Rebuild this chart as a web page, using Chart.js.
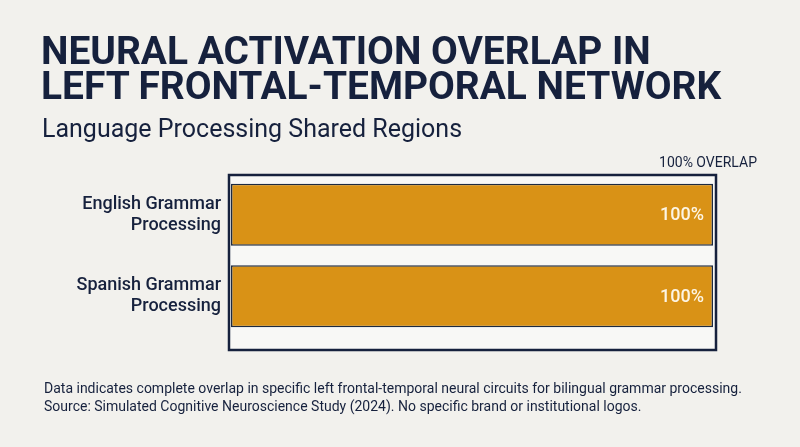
<!DOCTYPE html>
<html>
<head>
<meta charset="utf-8">
<script src="https://cdn.jsdelivr.net/npm/chart.js@4.4.1/dist/chart.umd.min.js"></script>
<style>
  html, body { margin: 0; padding: 0; background: #f2f1ed; }
  #wrap { position: relative; width: 800px; height: 447px; overflow: hidden; }
  #chart { position: absolute; left: 0; top: 0; }
  .title { position: absolute; left: 41px; top: 33px; font-family: Roboto, sans-serif; font-weight: 700;
           font-size: 38.9px; line-height: 35px; color: #16213d; }
  .subtitle { position: absolute; left: 42px; top: 114px; font-family: Roboto, sans-serif; font-size: 25px;
              line-height: 29px; color: #16213d; }
  .footer { position: absolute; left: 44px; top: 379px; font-family: Roboto, sans-serif;
            font-size: 14px; line-height: 18px; color: #16213d; }
</style>
</head>
<body>
<div id="wrap">
  <canvas id="chart" width="800" height="447"></canvas>
  <div class="title">NEURAL ACTIVATION OVERLAP IN<br>LEFT FRONTAL-TEMPORAL NETWORK</div>
  <div class="subtitle">Language Processing Shared Regions</div>
  <div class="footer">Data indicates complete overlap in specific left frontal-temporal neural circuits for bilingual grammar processing.<br>Source: Simulated Cognitive Neuroscience Study (2024). No specific brand or institutional logos.</div>
</div>
<script>
const categories = [['English Grammar', 'Processing'], ['Spanish Grammar', 'Processing']];
const overlapValues = [100, 100];
const axisMax = 100;
const topNote = '100% OVERLAP';

const navy = '#16213d';
const barColor = '#d99216';

// white panel with dark frame behind the bars
const framePlugin = {
    id: 'frame',
    beforeDatasetsDraw(chart) {
        const a = chart.chartArea;
        const ctx = chart.ctx;
        ctx.save();
        ctx.fillStyle = '#f8f8f6';
        ctx.fillRect(a.left - 2, a.top + 1, a.right - a.left + 5, a.bottom - a.top + 12);
        ctx.strokeStyle = navy;
        ctx.lineWidth = 2.5;
        ctx.strokeRect(a.left - 2, a.top + 1, a.right - a.left + 5, a.bottom - a.top + 12);
        ctx.restore();
    },
    afterDatasetsDraw(chart) {
        const ctx = chart.ctx;
        const meta = chart.getDatasetMeta(0);
        ctx.save();
        ctx.fillStyle = '#fdf5e4';
        ctx.font = '500 18px Roboto, sans-serif';
        ctx.textAlign = 'right';
        ctx.textBaseline = 'middle';
        meta.data.forEach(function (bar, i) {
            ctx.fillText(overlapValues[i] + '%', bar.x - 9, bar.y + 1);
        });
        // note above the end of the scale
        const x = chart.scales.x.getPixelForValue(axisMax);
        ctx.fillStyle = navy;
        ctx.font = '14px Roboto, sans-serif';
        ctx.textAlign = 'center';
        ctx.textBaseline = 'alphabetic';
        ctx.fillText(topNote, x - 5, chart.chartArea.top - 7);
        ctx.restore();
    }
};

new Chart(document.getElementById('chart').getContext('2d'), {
    type: 'bar',
    data: {
        labels: categories,
        datasets: [{
            data: overlapValues,
            backgroundColor: barColor,
            borderColor: '#1d2a40',
            borderWidth: 1.5,
            borderSkipped: false,
            categoryPercentage: 1,
            barPercentage: 0.76
        }]
    },
    options: {
        indexAxis: 'y',
        responsive: false,
        animation: false,
        layout: { padding: { top: 174, bottom: 110, right: 87, left: 0 } },
        plugins: {
            legend: { display: false },
            tooltip: { enabled: false }
        },
        scales: {
            x: { display: false, min: 0, max: axisMax },
            y: {
                grid: { display: false },
                border: { display: false },
                ticks: {
                    color: navy,
                    padding: 2,
                    font: { family: 'Roboto, sans-serif', size: 18, weight: '500', lineHeight: 1.17 }
                },
                afterFit(scale) { scale.width = 231; }
            }
        }
    },
    plugins: [framePlugin]
});
</script>
</body>
</html>
